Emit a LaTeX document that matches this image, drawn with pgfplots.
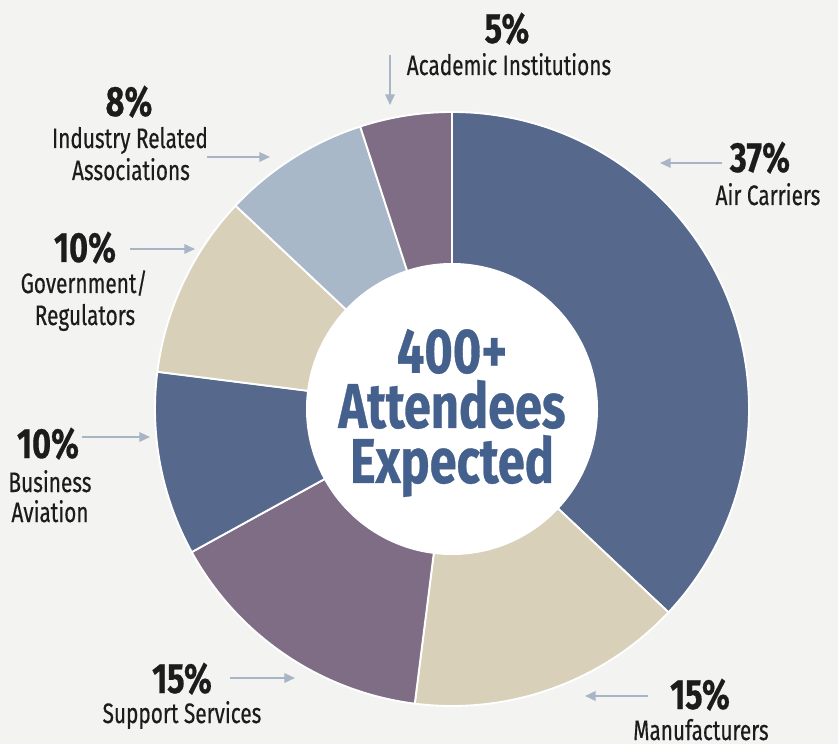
\documentclass[border=0pt]{standalone}
\usepackage{pgfplots}
\pgfplotsset{compat=1.18}
\usetikzlibrary{arrows.meta}
\usepackage{fontspec}
\setmainfont{Fira Sans}[FakeStretch=0.74, FakeBold=0.4]
\newfontfamily\boldnarrow{Fira Sans Bold}[FakeStretch=0.77, FakeBold=0.5]
\definecolor{bg}{HTML}{F3F3F2}
\definecolor{cBlue}{HTML}{56688C}
\definecolor{cBeige}{HTML}{D8D0B9}
\definecolor{cPurple}{HTML}{7F6D85}
\definecolor{cLight}{HTML}{A9B8C8}
\definecolor{cText}{HTML}{44608C}
\definecolor{cArrow}{HTML}{A7B5C5}
\definecolor{cDark}{HTML}{1C1C1C}
\def\R{8.91cm}
\def\Rin{4.38cm}
% #1 cumulative share before the slice, #2 share (percent), #3 colour
\newcommand\pieslice[3]{\fill[#3, draw=white, line width=1.6pt] (axis cs:452,335) -- ++({90-3.6*(#1)}:\R) arc[start angle={90-3.6*(#1)}, end angle={90-3.6*(#1+#2)}, radius=\R] -- cycle;}
\newcommand\pct[2]{\node[anchor=base, font=\boldnarrow\fontsize{36}{40}\selectfont, text=cDark, inner sep=0pt] at (axis cs:#1) {#2};}
\newcommand\lbl[2]{\node[anchor=base, font=\fontsize{24}{27}\selectfont, text=cDark, inner sep=0pt] at (axis cs:#1) {#2};}
\newcommand\arr[2]{\draw[cArrow, line width=1.6pt, -{Triangle[length=9pt,width=8pt]}] (axis cs:#1) -- (axis cs:#2);}
\begin{document}
\begin{tikzpicture}
\begin{axis}[name=ax, x=0.03cm, y=0.03cm, xmin=0, xmax=838, ymin=0, ymax=744,
  hide axis, clip=false]
\fill[bg] (rel axis cs:0,0) rectangle (rel axis cs:1,1);
% shares: Air Carriers 37, Manufacturers 15, Support Services 15,
% Business Aviation 10, Government/Regulators 10, Industry Related Associations 8, Academic 5
\pieslice{0}{37}{cBlue}
\pieslice{37}{15}{cBeige}
\pieslice{52}{15}{cPurple}
\pieslice{67}{10}{cBlue}
\pieslice{77}{10}{cBeige}
\pieslice{87}{8}{cLight}
\pieslice{95}{5}{cPurple}
\fill[white] (axis cs:452,335) circle[radius=\Rin];
% centre text
\node[anchor=center, align=center, font=\boldnarrow\fontsize{54}{47}\selectfont, text=cText, inner sep=0pt] at (axis cs:452,331) {400+\\Attendees\\Expected};
% labels
\pct{507,701}{5\%}
\lbl{509,669}{Academic Institutions}
\pct{760,572}{37\%}
\lbl{768,539}{Air Carriers}
\pct{129,628}{8\%}
\lbl{130,596}{Industry Related}
\lbl{131,564}{Associations}
\pct{85,482}{10\%}
\lbl{84,451}{Government/}
\lbl{85,419}{Regulators}
\pct{48,286}{10\%}
\lbl{50,252}{Business}
\lbl{50,222}{Aviation}
\pct{182,51}{15\%}
\lbl{182,21}{Support Services}
\pct{700,35}{15\%}
\lbl{701,4}{Manufacturers}
% arrows
\arr{390,689}{390,639}
\arr{722,581}{660,581}
\arr{207,587}{270,587}
\arr{130,495}{195,495}
\arr{82,307}{150,307}
\arr{230,66}{295,66}
\arr{648,48}{585,48}
\end{axis}
\pgfresetboundingbox
\useasboundingbox (ax.south west) rectangle (ax.north east);
\end{tikzpicture}
\end{document}
